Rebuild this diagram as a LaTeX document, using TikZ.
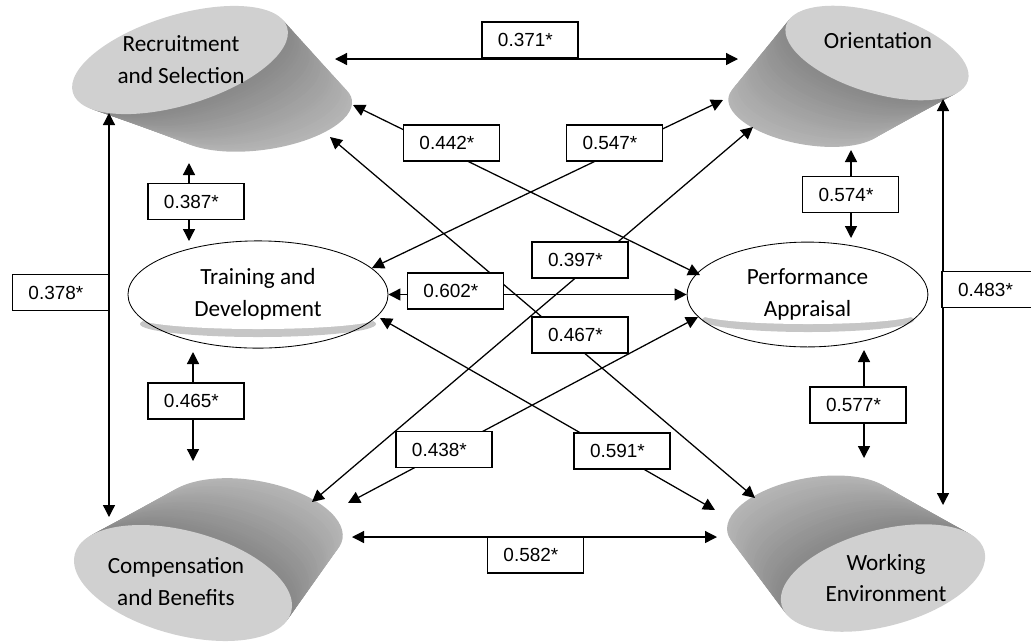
\documentclass[tikz,border=0pt]{standalone}
\usepackage{fontspec}
\newfontfamily\calibri{Carlito}
\newfontfamily\arial{Liberation Sans}
\usetikzlibrary{arrows.meta,shapes.geometric,calc}

% x, y, x radius, y radius, tilt, far end x, far end y, far tilt, far scale
\newcommand{\drum}[9]{%
  \foreach \k [evaluate=\k as \tone using int(58+36*(30-\k)/30)] in {30,...,1}{
    \path (#1,#2) ++({\k/30*(#6)},{\k/30*(#7)}) coordinate (q);
    \pgfmathsetmacro\tilt{#5+\k/30*(#8-(#5))}
    \pgfmathsetmacro\shrink{1-\k/30*(1-#9)}
    \fill[gray!\tone, rotate around={\tilt:(q)}] (q)
      ellipse ({#3*\shrink} and {#4*\shrink});
  }
  \fill[gray!37, rotate around={#5:(#1,#2)}] (#1,#2) ellipse ({#3} and {#4});
}

\begin{document}
\begin{tikzpicture}[
    x=0.025cm, y=0.025cm,
    label/.style={
        font=\calibri\fontsize{16.5}{22.7}\selectfont,
        align=center
    },
    midbox/.style={
        ellipse,
        draw,
        line width=0.6pt,
        align=center,
        font=\calibri\fontsize{16.5}{22.7}\selectfont
    },
    coef/.style={
        draw,
        line width=0.8pt,
        fill=white,
        minimum width=2.4cm,
        minimum height=0.9cm,
        text width=1.6cm,
        inner xsep=0.4cm,
        align=left,
        font=\arial\fontsize{13.5}{15}\selectfont
    },
    corr/.style={
        line width=0.9pt,
        {Triangle[length=3mm,width=3mm]}-{Triangle[length=3mm,width=3mm]}
    }
]
\useasboundingbox (0,0) rectangle (1031,-641);

% cylinders
\drum{180}{-60}{112}{45}{17}{81}{-53}{8}{0.82}
\drum{877}{-53}{95}{40}{-17}{-70}{-58}{-10}{0.84}
\drum{183}{-583}{112}{52}{-15}{69}{60}{-10}{0.82}
\drum{883}{-578}{105}{48}{15}{-71}{61}{10}{0.82}

% shadows of the middle ellipses
\fill[gray!45] (258,-324) ellipse (118 and 13);
\fill[white] (258,-318) ellipse (120 and 11);
\fill[gray!45] (808,-320) ellipse (106 and 12);
\fill[white] (808,-314) ellipse (108 and 10);

% constructs
\node[label] (rec) at (181,-59.5) {Recruitment\\and Selection};
\node[label] (ori) at (878,-41) {Orientation};
\node[label] (comp) at (176,-582) {Compensation\\and Benefits};
\node[label] (work) at (886,-578) {Working\\Environment};
\node[midbox, minimum width=6.5cm, minimum height=2.68cm] (train) at (258,-294.5) {Training and\\Development};
\node[midbox, minimum width=6.02cm, minimum height=2.62cm] (perf) at (807.5,-294.5) {Performance\\Appraisal};

% arrow ends
\coordinate (rec-ori) at (335,-59);
\coordinate (ori-rec) at (738,-59);
\coordinate (rec-comp) at (109,-113);
\coordinate (comp-rec) at (109,-517);
\coordinate (ori-work) at (943,-99);
\coordinate (work-ori) at (943,-505);
\coordinate (comp-work) at (352,-537);
\coordinate (work-comp) at (717,-537);
\coordinate (rec-train) at (189,-163);
\coordinate (train-rec) at (189,-241);
\coordinate (train-comp) at (193,-352);
\coordinate (comp-train) at (193,-461);
\coordinate (ori-perf) at (851,-150);
\coordinate (perf-ori) at (851,-238);
\coordinate (perf-work) at (864,-350);
\coordinate (work-perf) at (864,-458);
\coordinate (rec-perf) at (353,-105);
\coordinate (perf-rec) at (700,-275);
\coordinate (train-ori) at (372,-268);
\coordinate (ori-train) at (723,-100);
\coordinate (comp-ori) at (312,-502);
\coordinate (ori-comp) at (753,-127);
\coordinate (rec-work) at (330,-137);
\coordinate (work-rec) at (755,-498);
\coordinate (comp-perf) at (348,-503);
\coordinate (perf-comp) at (698,-317);
\coordinate (train-work) at (380,-318);
\coordinate (work-train) at (715,-510);

% correlations
\draw[corr] (rec-ori) -- (ori-rec);
\draw[corr] (rec-comp) -- (comp-rec);
\draw[corr] (ori-work) -- (work-ori);
\draw[corr] (comp-work) -- (work-comp);
\draw[corr] (rec-train) -- (train-rec);
\draw[corr] (train-comp) -- (comp-train);
\draw[corr] (ori-perf) -- (perf-ori);
\draw[corr] (perf-work) -- (work-perf);
\draw[corr] (train.east) -- (perf.west);
\draw[corr] (rec-perf) -- (perf-rec);
\draw[corr] (train-ori) -- (ori-train);
\draw[corr] (comp-ori) -- (ori-comp);
\draw[corr] (rec-work) -- (work-rec);
\draw[corr] (comp-perf) -- (perf-comp);
\draw[corr] (train-work) -- (work-train);

% coefficients
\node[coef] (c371) at (530,-40) {0.371*};
\node[coef] (c378) at (60.5,-292.5) {0.378*};
\node[coef] (c483) at (990,-289.5) {0.483*};
\node[coef] (c582) at (535.5,-555) {0.582*};
\node[coef] (c387) at (196,-201.5) {0.387*};
\node[coef] (c465) at (196,-401) {0.465*};
\node[coef] (c574) at (850.5,-194.5) {0.574*};
\node[coef] (c577) at (858,-405) {0.577*};
\node[coef] (c602) at (455.5,-291) {0.602*};
\node[coef] (c442) at (451.5,-143) {0.442*};
\node[coef] (c547) at (614.5,-143) {0.547*};
\node[coef] (c397) at (580,-260) {0.397*};
\node[coef] (c467) at (580,-335) {0.467*};
\node[coef] (c438) at (444,-449.5) {0.438*};
\node[coef] (c591) at (622,-451) {0.591*};

\end{tikzpicture}
\end{document}
